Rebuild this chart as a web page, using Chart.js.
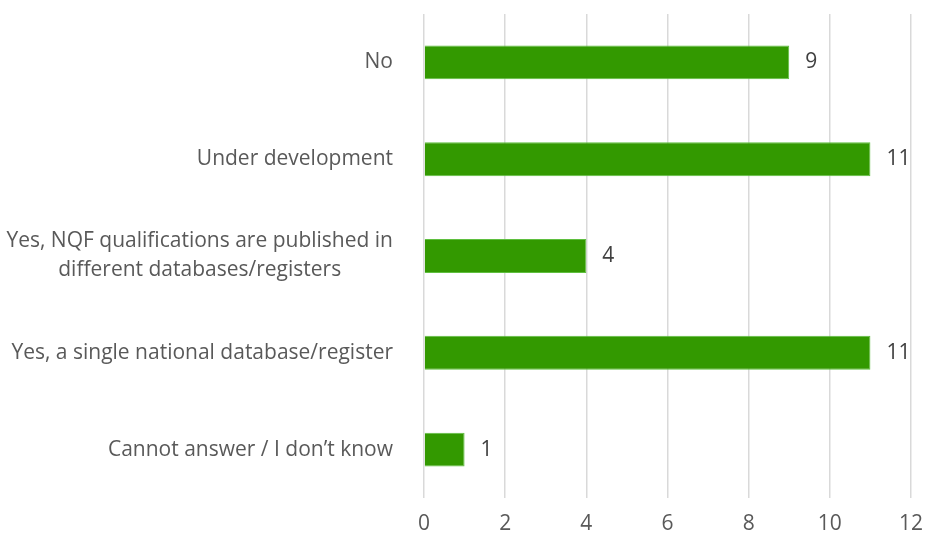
<!DOCTYPE html>
<html><head><meta charset="utf-8">
<script src="https://cdn.jsdelivr.net/npm/chart.js@4"></script>
<style>html,body{margin:0;padding:0;background:#fff}#wrap{width:927px;height:538px}</style>
</head><body><div id="wrap"><canvas id="c" width="927" height="538"></canvas></div>
<script>
const categories = [
  "No",
  "Under development",
  ["Yes, NQF qualifications are published in", "different databases/registers"],
  "Yes, a single national database/register",
  "Cannot answer / I don\u2019t know"
];
const values = [9, 11, 4, 11, 1];
const xTicks = [0, 2, 4, 6, 8, 10, 12];

const FONT = "'Open Sans', sans-serif";
const FS = 21;

const labelPlugin = {
  id: 'barLabels',
  afterDatasetsDraw(chart) {
    const ctx = chart.ctx;
    const meta = chart.getDatasetMeta(0);
    const yScale = chart.scales.y;
    ctx.save();
    ctx.font = FS + "px " + FONT;
    ctx.fillStyle = "#404040";
    ctx.textAlign = "left";
    ctx.textBaseline = "middle";
    meta.data.forEach((bar, i) => {
      ctx.fillText(String(values[i]), bar.x + 16, bar.y);
    });
    // category labels: block right-aligned, lines centered within block
    ctx.fillStyle = "#595959";
    ctx.textAlign = "center";
    const right = yScale.right - 31;
    const lh = 29;
    categories.forEach((lab, i) => {
      const lines = Array.isArray(lab) ? lab : [lab];
      const w = Math.max(...lines.map(l => ctx.measureText(l).width));
      const cx = right - w / 2;
      const cy = yScale.getPixelForTick(i);
      lines.forEach((l, j) => {
        ctx.fillText(l, cx, cy + (j - (lines.length - 1) / 2) * lh);
      });
    });
    ctx.restore();
  }
};

new Chart(document.getElementById('c'), {
  type: 'bar',
  data: {
    labels: categories,
    datasets: [{
      data: values,
      backgroundColor: '#339900',
      borderColor: '#5fbf3f',
      borderWidth: 1,
      barPercentage: 0.7,
      categoryPercentage: 0.5
    }]
  },
  options: {
    indexAxis: 'y',
    responsive: false,
    animation: false,
    layout: { padding: { top: 14, right: 16, left: 0, bottom: 0 } },
    plugins: { legend: { display: false }, tooltip: { enabled: false } },
    scales: {
      x: {
        min: 0, max: 12,
        afterBuildTicks(axis) { axis.ticks = xTicks.map(v => ({ value: v })); },
        afterFit(axis) { axis.height = 40; axis.paddingLeft = 0; axis.paddingRight = 0; },
        grid: { color: '#d9d9d9', lineWidth: 1.5, drawTicks: false },
        border: { display: false },
        ticks: { color: '#595959', font: { family: FONT, size: FS }, padding: 13 }
      },
      y: {
        afterFit(axis) { axis.width = 424; axis.paddingTop = 0; axis.paddingBottom = 0; },
        grid: { display: false, drawTicks: false },
        border: { display: false },
        ticks: { display: false }
      }
    }
  },
  plugins: [labelPlugin]
});
</script></body></html>
